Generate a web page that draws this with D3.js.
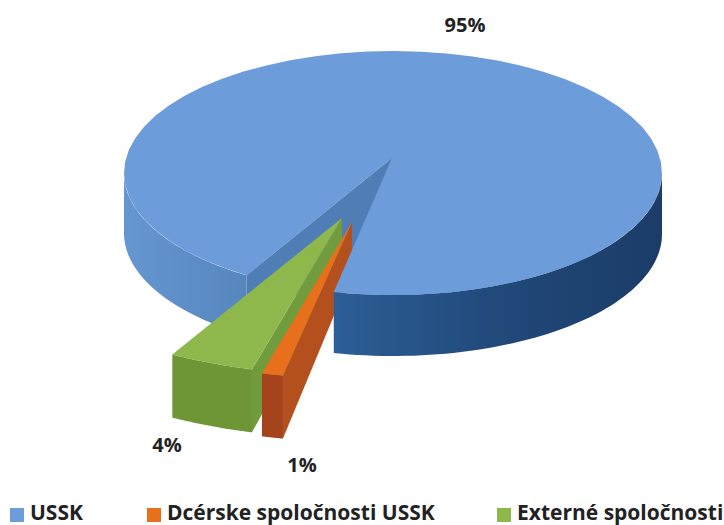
<!DOCTYPE html>
<html>
<head>
<meta charset="utf-8">
<style>
  body { margin: 0; background: #fff; }
  text { font-family: "Open Sans", sans-serif; font-weight: 700; fill: #222; }
</style>
</head>
<body>
<svg width="724" height="525"></svg>
<script src="https://cdn.jsdelivr.net/npm/d3@7"></script>
<script>
const categories = ["USSK", "Dcérske spoločnosti USSK", "Externé spoločnosti"];
const values = [95, 1, 4];
const valueLabels = ["95%", "1%", "4%"];
const topColors = ["#6c9cd9", "#e8701c", "#8fb84c"];

const svg = d3.select("svg");
const cx = 393, cy = 173, rx = 269, ry = 122, depth = 60;
// perspektiva: vrchol vyrezu je vyssie ako stred elipsy, vysunute vysece su vacsie
const apex = [392, 158];
const sliceGrow = 1.285, sliceDepth = 63, sliceTurn = -1.2;

const toRad = Math.PI / 180;
const pie = d3.pie().sort(null).startAngle(213 * toRad).endAngle(570.6 * toRad);
const arcs = pie(values);

function pt(a, r = 1, ox = cx, oy = cy) {
  return [ox + rx * r * Math.sin(a), oy - ry * r * Math.cos(a)];
}
const poly = d3.line();

function arcPoints(a0, a1, r, ox, oy) {
  return d3.range(0, 61).map(i => pt(a0 + (a1 - a0) * i / 60, r, ox, oy));
}
function drop(points, dy) {
  return points.map(p => [p[0], p[1] + dy]).reverse();
}

function gradient(id, stops, x1, x2) {
  const g = svg.append("defs").append("linearGradient")
    .attr("id", id)
    .attr("gradientUnits", "userSpaceOnUse")
    .attr("x1", x1).attr("x2", x2).attr("y1", 0).attr("y2", 0);
  stops.forEach(s => g.append("stop").attr("offset", s[0]).attr("stop-color", s[1]));
}
gradient("leftSide", [[0, "#6596d0"], [1, "#5685bd"]], 125, 255);
gradient("rightSide", [[0, "#2c5e97"], [0.5, "#21497a"], [1, "#1b3c67"]], 334, 662);

const blueStart = arcs[0].startAngle;
const blueEnd = arcs[0].endAngle - 2 * Math.PI;

// strana vlavo
const leftTop = arcPoints(blueStart, 270 * toRad, 1, cx, cy);
svg.append("path")
  .attr("d", poly(leftTop.concat(drop(leftTop, depth))) + "Z")
  .attr("fill", "url(#leftSide)");

// vrch modrej vysece
const rim = arcPoints(blueStart, blueEnd + 2 * Math.PI, 1, cx, cy);
svg.append("path")
  .attr("d", poly([apex].concat(rim)) + "Z")
  .attr("fill", topColors[0]);

// vnutorna stena vyrezu
const wallOuter = pt(blueStart);
svg.append("path")
  .attr("d", poly([apex, wallOuter, [wallOuter[0], wallOuter[1] + depth], [apex[0], apex[1] + depth]]) + "Z")
  .attr("fill", "#4f7eb6");

// vysunute vysece
function slice(d, ox, oy, colors) {
  const a0 = d.startAngle + sliceTurn * toRad, a1 = d.endAngle + sliceTurn * toRad;
  const outer = arcPoints(a0, a1, sliceGrow, ox, oy);
  // stena
  svg.append("path")
    .attr("d", poly([[ox, oy], outer[0], [outer[0][0], outer[0][1] + sliceDepth], [ox, oy + 50]]) + "Z")
    .attr("fill", colors.wall);
  // predna strana
  svg.append("path")
    .attr("d", poly(outer.concat(drop(outer, sliceDepth))) + "Z")
    .attr("fill", colors.front);
  // vrch
  svg.append("path")
    .attr("d", poly([[ox, oy]].concat(outer)) + "Z")
    .attr("fill", colors.top);
}

slice(arcs[2], 342, 218, { top: topColors[2], front: "#6f9636", wall: "#719c3e" });
slice(arcs[1], 352, 222, { top: topColors[1], front: "#a5441c", wall: "#b4501e" });

// predna cast modreho kolaca prekryva vysece
const rightTop = arcPoints(90 * toRad, blueEnd, 1, cx, cy);
svg.append("path")
  .attr("d", poly(rightTop.concat(drop(rightTop, depth + 1))) + "Z")
  .attr("fill", "url(#rightSide)");
const frontRim = arcPoints(130 * toRad, blueEnd, 1, cx, cy);
svg.append("path")
  .attr("d", poly([apex].concat(frontRim)) + "Z")
  .attr("fill", topColors[0]);

// popisky hodnot
const labelPos = [[465, 32], [302, 472], [167, 452]];
svg.selectAll("text.value").data(valueLabels).join("text")
  .attr("class", "value")
  .attr("x", (d, i) => labelPos[i][0])
  .attr("y", (d, i) => labelPos[i][1])
  .attr("text-anchor", "middle")
  .attr("font-size", 20)
  .text(d => d);

// legenda
const legendX = d3.scaleOrdinal().domain(categories).range([10, 147, 497]);
const legend = svg.selectAll("g.legend").data(categories).join("g")
  .attr("class", "legend")
  .attr("transform", d => `translate(${legendX(d)},508)`);
legend.append("rect").attr("width", 14).attr("height", 14)
  .attr("fill", (d, i) => topColors[i]);
legend.append("text").attr("x", 20).attr("y", 11.8)
  .attr("font-size", 21)
  .text(d => d);
</script>
</body>
</html>
